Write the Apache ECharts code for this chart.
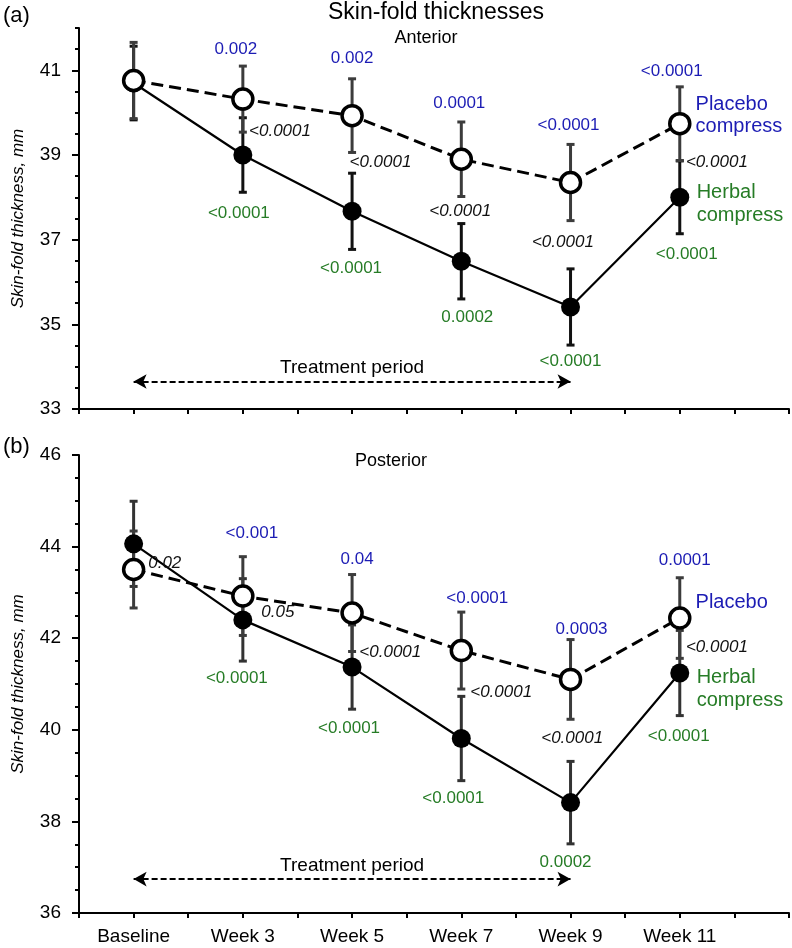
<!DOCTYPE html>
<html>
<head>
<meta charset="utf-8">
<script src="https://cdn.jsdelivr.net/npm/echarts@6/dist/echarts.min.js"></script>
<style>html,body{margin:0;padding:0;background:#fff}#main{width:792px;height:948px}</style>
</head>
<body>
<div id="main"></div>
<script>
var weeks = [1, 3, 5, 7, 9, 11];
var categories = ['Baseline', 'Week 3', 'Week 5', 'Week 7', 'Week 9', 'Week 11'];

// (a) anterior
var antHerbal = [40.70, 39.00, 37.67, 36.49, 35.41, 38.00];
var antHerbalErr = [0.87, 0.88, 0.90, 0.89, 0.90, 0.86];
var antPlacebo = [40.76, 40.32, 39.93, 38.90, 38.35, 39.74];
var antPlaceboErr = [0.90, 0.78, 0.87, 0.88, 0.90, 0.87];
var antPlaceboP = ['', '0.002', '0.002', '0.0001', '<0.0001', '<0.0001'];
var antHerbalP = ['', '<0.0001', '<0.0001', '0.0002', '<0.0001', '<0.0001'];
var antBetweenP = ['', '<0.0001', '<0.0001', '<0.0001', '<0.0001', '<0.0001'];

// (b) posterior
var postHerbal = [44.06, 42.40, 41.37, 39.81, 38.41, 41.24];
var postHerbalErr = [0.93, 0.90, 0.92, 0.92, 0.90, 0.93];
var postPlacebo = [43.50, 42.92, 42.55, 41.73, 41.10, 42.44];
var postPlaceboErr = [0.84, 0.86, 0.84, 0.84, 0.87, 0.88];
var postPlaceboP = ['', '<0.001', '0.04', '<0.0001', '0.0003', '0.0001'];
var postHerbalP = ['', '<0.0001', '<0.0001', '<0.0001', '0.0002', '<0.0001'];
var postBetweenP = ['0.02', '0.05', '<0.0001', '<0.0001', '<0.0001', '<0.0001'];

// annotation layout (data coords / pixel nudges)
var antBetweenAt = [null, [3.68, 39.55], [5.52, 38.82], [6.98, 37.66], [8.86, 36.93], [11.68, 38.84]];
var postBetweenAt = [[1.57, 43.64], [3.64, 42.57], [5.70, 41.69], [7.73, 40.82], [9.03, 39.81], [11.68, 41.80]];
var antBlueNudge = [[0, 0], [-7, 0], [0, -3], [-2, -2], [-2, -2], [-8, 1]];
var postBlueNudge = [[0, 0], [9, -6], [5, 2], [16, 3], [11, 7], [5, 0]];
var antGreenNudge = [[0, 0], [-4, 3], [-1, 1], [6, 0], [0, -2], [7, 3]];
var postGreenNudge = [[0, 0], [-6, -1], [-3, 1], [-8, 0], [-5, 0], [-1, 3]];

var FONT = 'Arial, "Liberation Sans", sans-serif';
var BLUE = '#1c1cb4';
var GREEN = '#267c26';

var dom = document.getElementById('main');
var chart = echarts.init(dom);

function errorBars(color) {
    return function (params, api) {
        var x = api.value(0);
        var lo = api.coord([x, api.value(1)]);
        var hi = api.coord([x, api.value(2)]);
        var w = 4;
        var st = {stroke: color, lineWidth: 3};
        return {
            type: 'group',
            children: [
                {type: 'line', shape: {x1: lo[0], y1: lo[1], x2: hi[0], y2: hi[1]}, style: st},
                {type: 'line', shape: {x1: lo[0] - w, y1: lo[1], x2: lo[0] + w, y2: lo[1]}, style: st},
                {type: 'line', shape: {x1: hi[0] - w, y1: hi[1], x2: hi[0] + w, y2: hi[1]}, style: st}
            ]
        };
    };
}

function textSeries(xi, yi, items, label) {
    return {
        type: 'scatter', xAxisIndex: xi, yAxisIndex: yi, silent: true, z: 6,
        symbolSize: 1, itemStyle: {color: 'transparent', opacity: 1},
        data: items,
        label: Object.assign({show: true, formatter: '{b}', fontSize: 17, fontFamily: FONT, opacity: 1}, label)
    };
}

function panel(g, herbal, herbalErr, placebo, placeboErr, pP, hP, bP, bAt, blueNudge, greenNudge, arrowY, placeboName) {
    var yi = g * 2;
    var hData = [], pData = [], hErr = [], pErr = [], blue = [], green = [], black = [];
    for (var i = 0; i < weeks.length; i++) {
        hData.push([weeks[i], herbal[i]]);
        pData.push([weeks[i], placebo[i]]);
        hErr.push([weeks[i], herbal[i] - herbalErr[i], herbal[i] + herbalErr[i]]);
        pErr.push([weeks[i], placebo[i] - placeboErr[i], placebo[i] + placeboErr[i]]);
        if (pP[i]) blue.push({name: pP[i], value: [weeks[i], placebo[i] + placeboErr[i]], label: {offset: blueNudge[i]}});
        if (hP[i]) green.push({name: hP[i], value: [weeks[i], herbal[i] - herbalErr[i]], label: {offset: greenNudge[i]}});
        if (bP[i]) black.push({name: bP[i], value: bAt[i]});
    }
    var placeboLegend = [{name: placeboName, value: [11.28, placebo[5] + (g === 0 ? 0.19 : 0.33)]}];
    var herbalLegend = [{name: 'Herbal\ncompress', value: [11.30, herbal[5] + (g === 0 ? -0.16 : -0.34)]}];
    return [
        {type: 'custom', xAxisIndex: g, yAxisIndex: yi, renderItem: errorBars(g === 0 ? '#111' : '#333'),
         encode: {x: 0, y: [1, 2]}, data: hErr, z: 2, silent: true},
        {type: 'custom', xAxisIndex: g, yAxisIndex: yi, renderItem: errorBars('#3c3c3c'),
         encode: {x: 0, y: [1, 2]}, data: pErr, z: 2, silent: true},
        {type: 'line', name: 'Herbal compress', xAxisIndex: g, yAxisIndex: yi, data: hData, z: 3,
         symbol: 'circle', symbolSize: 19, itemStyle: {color: '#000'},
         lineStyle: {color: '#000', width: 2.2}, silent: true,
         markLine: {
             silent: true, symbol: ['arrow', 'arrow'], symbolSize: [11, 13],
             lineStyle: {color: '#000', type: [6, 3], width: 2},
             label: {show: true, position: 'insideMiddleTop', formatter: 'Treatment period', color: '#000',
                     fontSize: 19, fontFamily: FONT, distance: 4},
             data: [[{coord: [1, arrowY]}, {coord: [9, arrowY]}]]
         }},
        {type: 'line', name: 'Placebo', xAxisIndex: g, yAxisIndex: yi, data: pData, z: 4,
         symbol: 'circle', symbolSize: 20,
         itemStyle: {color: '#fff', borderColor: '#000', borderWidth: 3.5},
         lineStyle: {color: '#000', width: 3, type: [12, 6]}, silent: true},
        textSeries(g, yi, blue, {color: BLUE, position: 'top', distance: 8}),
        textSeries(g, yi, green, {color: GREEN, position: 'bottom', distance: 9}),
        textSeries(g, yi, black, {color: '#111', position: 'inside', fontStyle: 'italic', textBorderWidth: 0}),
        textSeries(g, yi, placeboLegend, {color: BLUE, position: 'right', distance: 0, fontSize: 20, lineHeight: 22, align: 'left'}),
        textSeries(g, yi, herbalLegend, {color: GREEN, position: 'right', distance: 0, fontSize: 20, lineHeight: 23, align: 'left'})
    ];
}

function xAxis(g) {
    return {
        type: 'value', gridIndex: g, min: 0, max: 13, interval: 1,
        axisLine: {onZero: false, lineStyle: {color: '#000', width: 2}},
        axisTick: {length: 5, lineStyle: {color: '#000', width: 2}},
        splitLine: {show: false},
        axisLabel: {
            show: g === 1, color: '#000', fontSize: 19, fontFamily: FONT, margin: 14,
            formatter: function (v) {
                var k = weeks.indexOf(v);
                return k >= 0 ? categories[k] : '';
            }
        }
    };
}

function yAxes(g, min, max) {
    return [
        {
            type: 'value', gridIndex: g, min: min, max: max, interval: 2, position: 'left',
            name: 'Skin-fold thickness, mm', nameLocation: 'middle', nameGap: 52,
            nameTextStyle: {fontSize: 17, fontStyle: 'italic', color: '#000', fontFamily: FONT},
            axisLine: {onZero: false, lineStyle: {color: '#000', width: 2}},
            axisTick: {length: 7, lineStyle: {color: '#000', width: 2}},
            splitLine: {show: false},
            axisLabel: {color: '#000', fontSize: 19, fontFamily: FONT, margin: 18, showMaxLabel: g === 1}
        },
        {
            type: 'value', gridIndex: g, min: min, max: max, interval: 0.5, position: 'left',
            axisLine: {show: false}, splitLine: {show: false},
            axisTick: {length: 4, lineStyle: {color: '#000', width: 2}},
            axisLabel: {show: false}
        }
    ];
}

function txt(x, y, s, size, align) {
    return {
        type: 'text', x: x, y: y, silent: true,
        style: {text: s, fontSize: size, fontFamily: FONT, fill: '#000',
                textAlign: align, textVerticalAlign: 'middle'}
    };
}

var option = {
    backgroundColor: '#fff',
    animation: false,
    grid: [
        {left: 79, top: 28, width: 710, height: 381},
        {left: 79, top: 455, width: 710, height: 458}
    ],
    xAxis: [xAxis(0), xAxis(1)],
    yAxis: yAxes(0, 33, 42).concat(yAxes(1, 36, 46)),
    graphic: [
        txt(436, 13, 'Skin-fold thicknesses', 23, 'center'),
        txt(3, 16, '(a)', 22, 'left'),
        txt(3, 447, '(b)', 22, 'left'),
        txt(426, 38, 'Anterior', 18, 'center'),
        txt(391, 461, 'Posterior', 18, 'center')
    ],
    series: [].concat(
        panel(0, antHerbal, antHerbalErr, antPlacebo, antPlaceboErr, antPlaceboP, antHerbalP, antBetweenP,
              antBetweenAt, antBlueNudge, antGreenNudge, 33.65, 'Placebo\ncompress'),
        panel(1, postHerbal, postHerbalErr, postPlacebo, postPlaceboErr, postPlaceboP, postHerbalP, postBetweenP,
              postBetweenAt, postBlueNudge, postGreenNudge, 36.74, 'Placebo')
    )
};

chart.setOption(option);
window.addEventListener('resize', function () {
    chart.resize();
});
</script>
</body>
</html>
